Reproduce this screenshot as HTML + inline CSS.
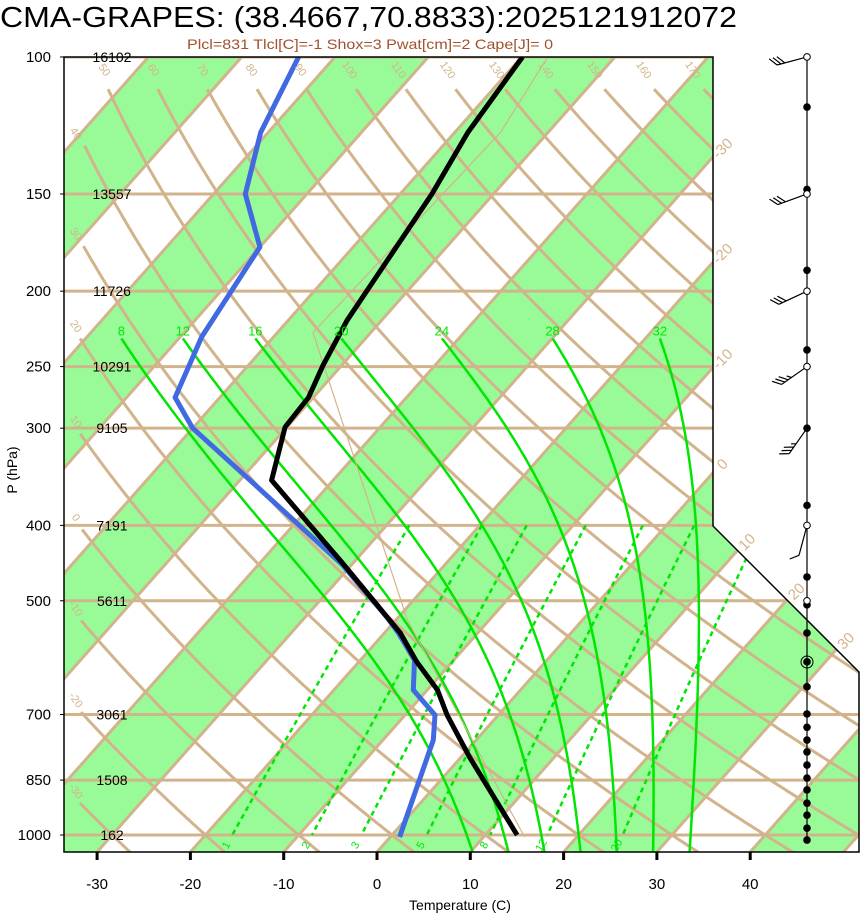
<!DOCTYPE html>
<html><head><meta charset="utf-8"><style>
html,body{margin:0;padding:0;background:#fff;}
svg{display:block;font-family:"Liberation Sans",sans-serif;}
</style></head><body>
<svg id="chart" xmlns="http://www.w3.org/2000/svg" width="860" height="914" viewBox="0 0 860 914">
<defs><clipPath id="plotclip"><polygon points="64,57 713,57 713,526 859,672 859,852 64,852"/></clipPath></defs>
<rect width="860" height="914" fill="#fff"/>
<text x="0" y="27" font-size="29" textLength="737" lengthAdjust="spacingAndGlyphs">CMA-GRAPES: (38.4667,70.8833):2025121912072</text>
<text x="370" y="49" font-size="14" fill="#A0522D" text-anchor="middle" textLength="366" lengthAdjust="spacingAndGlyphs">Plcl=831 Tlcl[C]=-1 Shox=3 Pwat[cm]=2 Cape[J]= 0</text>
<g id="bg" clip-path="url(#plotclip)"></g>
<g id="fg"></g>
<text x="460" y="910" font-size="14" text-anchor="middle">Temperature (C)</text>
<text x="0" y="0" font-size="14" text-anchor="middle" transform="translate(17,470) rotate(-90)">P (hPa)</text>
</svg>
<script>
// ---- data ----
const pressureLevels=[100,150,200,250,300,400,500,700,850,1000];
const heightLabels=["16102","13557","11726","10291","9105","7191","5611","3061","1508","162"];
const tempTicks=[-30,-20,-10,0,10,20,30,40];
const tempP=[100,125,150,218,249,274,299,350,446,550,599,651,701,794,1000];
const tempT=[-59.9,-58.6,-56.6,-53.7,-52.0,-50.5,-50.2,-46.6,-31.3,-18.3,-13.8,-8.9,-5.5,0.9,13.4];
const dewP=[100,125,150,175.5,229,274,300,350,450,526,550,596,651,701,755,1006];
const dewT=[-83.9,-80.8,-76.6,-70.0,-67.7,-64.8,-60.0,-48.9,-30.9,-21.1,-18.5,-14.2,-11.5,-6.8,-4.6,1.0];
const parcelP=[1006,529,226,125,100];
const parcelT=[14.4,-18.8,-56.2,-55.1,-57.2];
const moistThetaW=[8,12,16,20,24,28,32];
const mixRatios=[1,2,3,5,8,12,20];
const mixLabels=["1","2","3","5","8","12","20"];
const dryThetas=[-40,-30,-20,-10,0,10,20,30,40,50,60,70,80,90,100,110,120,130,140,150,160,170];
const windDotP=[116,148,188,238,300,377,466,506,550,599,645,699,727,755,782,813,845,875,910,943,980,1015];
const windOpenP=[100,150,200,250,400,500];
const windBarbP=[100,150,200,250,300,400];
const windDir=[255,250,245,235,215,195];
const windSpd=[30,30,30,35,35,10];

// ---- axes ----
const NS="http://www.w3.org/2000/svg";
const yP=p=>835-337.9*Math.log(1000/p);
const xT=(T,y)=>377+9.33*T+0.886*(852-y);
const bg=document.getElementById('bg'), fg=document.getElementById('fg');
function mk(tag,attrs,parent){const e=document.createElementNS(NS,tag);for(const k in attrs)e.setAttribute(k,attrs[k]);parent.appendChild(e);return e;}
const TAN="#D2B48C";

// green isotherm bands
for(let T=-140;T<=60;T+=10){
  if(Math.floor(T/10)%2!==0)continue;
  const pts=[[xT(T,852),852],[xT(T+10,852),852],[xT(T+10,57),57],[xT(T,57),57]];
  const e=mk('polygon',{points:pts.map(q=>q.join(',')).join(' '),fill:'#98FB98'},bg);
  
  
}
// isobars
pressureLevels.forEach(p=>{
  const e=mk('line',{x1:64,x2:860,y1:yP(p),y2:yP(p),stroke:TAN,'stroke-width':3},bg);
  
  
});
// isotherms
for(let T=-140;T<=60;T+=10){
  const e=mk('line',{x1:xT(T,852),y1:852,x2:xT(T,57),y2:57,stroke:TAN,'stroke-width':3},bg);
  
  
}
// dry adiabats
dryThetas.forEach(th=>{
  const pts=[];
  for(let p=1060;p>=100;p-=5){
    const y=yP(p);const T=(th+273.15)*Math.pow(p/1000,0.286)-273.15;const x=xT(T,y);
    if(y<88||x<80)break;pts.push([x,y]);
  }
  if(pts.length<2)return;
  const e=mk('polyline',{points:pts.map(q=>q[0].toFixed(1)+','+q[1].toFixed(1)).join(' '),fill:'none',stroke:TAN,'stroke-width':3},bg);
  
  
  const last=pts[pts.length-1];
  let lx,ly;
  if(last[1]<92){ly=72;const p=1000*Math.exp(-(835-75)/337.9);lx=xT((th+273.15)*Math.pow(p/1000,0.286)-273.15,75);}
  else{lx=73;ly=last[1]-10;}
  if(lx>700||lx<60)return;
  const t=mk('text',{x:lx,y:ly,'font-size':11,fill:TAN,'text-anchor':'middle',transform:`rotate(55 ${lx} ${ly})`},fg);
  t.textContent=String(th);
  
  
});
// moist adiabats
const eps=0.622,Rd=287.04,cp=1005.7,Lv=2.501e6;
function es(Tc){return 6.112*Math.exp(17.67*Tc/(Tc+243.5));}
function dTdp(T,p){const Tc=T-273.15;const e=es(Tc);const rs=eps*e/(p-e);return (Rd*T+Lv*rs)/(p*(cp+Lv*Lv*rs*eps/(Rd*T*T)));}
moistThetaW.forEach(tw=>{
  const up=[];let T=tw+273.15;
  for(let p=1000;p>=230;p-=2){up.push([p,T]);T-=dTdp(T,p)*2;}
  const dn=[];T=tw+273.15;
  for(let p=1000;p<=1060;p+=2){dn.push([p,T]);T+=dTdp(T,p)*2;}
  const all=dn.reverse().concat(up);
  const pts=all.map(([p,T])=>{const y=yP(p);return [xT(T-273.15,y),y];});
  const e=mk('polyline',{points:pts.map(q=>q[0].toFixed(1)+','+q[1].toFixed(1)).join(' '),fill:'none',stroke:'#00E600','stroke-width':2.5},bg);
  
  
  const top=pts[pts.length-1];
  const t=mk('text',{x:top[0],y:top[1]-3,'font-size':13,fill:'#00E600','text-anchor':'middle'},fg);
  t.textContent=String(tw);
  
  
});
// mixing ratio lines
mixRatios.forEach((w,i)=>{
  const pts=[];
  for(let p=400;p<=1000;p+=10){const e=w*p/(622+w);const l=Math.log(e/6.112);const Td=243.5*l/(17.67-l);const y=yP(p);pts.push([xT(Td,y),y]);}
  const e=mk('polyline',{points:pts.map(q=>q[0].toFixed(1)+','+q[1].toFixed(1)).join(' '),fill:'none',stroke:'#00E600','stroke-width':2.5,'stroke-dasharray':'5,4'},bg);
  
  
  const b=pts[pts.length-1];
  const lx=b[0]-3,ly=b[1]+12;
  const t=mk('text',{x:lx,y:ly,'font-size':11,fill:'#00E600','text-anchor':'middle',transform:`rotate(-60 ${lx} ${ly})`},bg);
  t.textContent=mixLabels[i];
  
  
});
// parcel path
{
  const pts=parcelP.map((p,i)=>{const y=yP(p);return xT(parcelT[i],y).toFixed(1)+','+y.toFixed(1);});
  const e=mk('polyline',{points:pts.join(' '),fill:'none',stroke:TAN,'stroke-width':1.2},bg);
  
  
}
// profiles
function profile(P,T,color,name){
  const pts=P.map((p,i)=>{const y=yP(p);return xT(T[i],y).toFixed(1)+','+y.toFixed(1);});
  const e=mk('polyline',{points:pts.join(' '),fill:'none',stroke:color,'stroke-width':5,'stroke-linejoin':'round'},bg);
  
  
}
profile(dewP,dewT,'#4169E1','dewpoint-profile');
profile(tempP,tempT,'#000','temperature-profile');

// border
{
  const e=mk('polygon',{points:'64,57 713,57 713,526 859,672 859,852 64,852',fill:'none',stroke:'#000','stroke-width':1.5},fg);
  
  
}
// isotherm labels
for(let T=-30;T<=30;T+=10){
  let x,y;
  if(T<=0){y=852-(336-9.33*T)/0.886;x=713;}
  else{y=(944.9+9.33*T)/1.886;x=713+(y-526);}
  const lx=x+13,ly=y-5;
  const t=mk('text',{x:lx,y:ly,'font-size':15,fill:TAN,'text-anchor':'middle',transform:`rotate(-45 ${lx} ${ly})`},fg);
  t.textContent=String(T);
  
  
}
// y axis labels
pressureLevels.forEach((p,i)=>{
  const y=yP(p);
  const t=mk('text',{x:51,y:y+5,'font-size':15,'text-anchor':'end'},fg);
  t.textContent=String(p);
  
  
  const h=mk('text',{x:112,y:y+5,'font-size':14,'text-anchor':'middle'},fg);
  h.textContent=heightLabels[i];
  
  
  const tk=mk('line',{x1:60,x2:64,y1:y,y2:y,stroke:'#000','stroke-width':1},fg);
  
  
});
// x axis ticks
tempTicks.forEach(T=>{
  const x=xT(T,852);
  const tk=mk('line',{x1:x,x2:x,y1:852,y2:860,stroke:'#000','stroke-width':3},fg);
  
  
  const t=mk('text',{x:x,y:889,'font-size':15,'text-anchor':'middle'},fg);
  t.textContent=String(T);
  
  
});
// wind column
{
  const ax=mk('line',{x1:807,x2:807,y1:57,y2:840,stroke:'#000','stroke-width':1.2},fg);
  
  
  windBarbP.forEach((p,i)=>{
    const y=yP(p),r=windDir[i]*Math.PI/180;
    const sx=Math.sin(r),sy=-Math.cos(r);
    const ex=807+31*sx,ey=y+31*sy;
    let d=`M807,${y}L${ex.toFixed(1)},${ey.toFixed(1)}`;
    const px=-sy,py=sx;
    let n=Math.floor(windSpd[i]/10),half=(windSpd[i]%10)>=5;
    for(let k=0;k<n+(half?1:0);k++){
      const bx=ex-sx*4*k,by=ey-sy*4*k;const L=(k<n)?10:5;
      d+=`M${bx.toFixed(1)},${by.toFixed(1)}l${(L*(px*0.8+sx*0.6)).toFixed(1)},${(L*(py*0.8+sy*0.6)).toFixed(1)}`;
    }
    const e=mk('path',{d:d,fill:'none',stroke:'#000','stroke-width':1.2},fg);
    
    
  });
  windDotP.forEach(p=>{
    const c=mk('circle',{cx:807,cy:yP(p),r:3.8,fill:'#000'},fg);
    
    
  });
  windOpenP.forEach(p=>{
    const c=mk('circle',{cx:807,cy:yP(p),r:3.3,fill:'#fff',stroke:'#000','stroke-width':1},fg);
    
    
  });
  const cc=mk('circle',{cx:807,cy:662,r:6,fill:'none',stroke:'#000','stroke-width':1},fg);
  
  
}
</script>
</body></html>
